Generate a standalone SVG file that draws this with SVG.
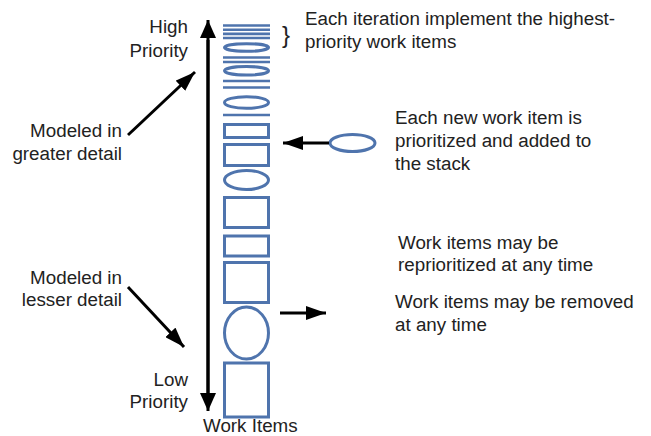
<svg xmlns="http://www.w3.org/2000/svg" width="651" height="436" viewBox="0 0 651 436">
<style>
text{font-family:"Liberation Sans",Arial,sans-serif;font-size:18.8px;fill:#222}
.r{text-anchor:end}
.s{fill:none;stroke:#4f74ad;stroke-width:3}
.l{stroke:#4f74ad;stroke-width:2.6}
.a{stroke:#000;stroke-width:3;fill:none}
</style>
<defs>
<marker id="big" markerUnits="userSpaceOnUse" markerWidth="18" markerHeight="16" refX="18" refY="8" orient="auto"><path d="M0,0 L18,8 L0,16 Z" fill="#000"/></marker>
<marker id="sm" markerUnits="userSpaceOnUse" markerWidth="20" markerHeight="14" refX="20" refY="7" orient="auto"><path d="M0,0 L20,7 L0,14 Z" fill="#000"/></marker>
</defs>
<rect width="651" height="436" fill="#fff"/>
<g id="axis">
<line class="a" x1="208" y1="405" x2="208" y2="20" marker-end="url(#big)"/>
<line class="a" x1="208" y1="40" x2="208" y2="411" marker-end="url(#big)"/>
<text class="r" x="188" y="33">High</text>
<text class="r" x="188" y="57">Priority</text>
<text class="r" x="188" y="386">Low</text>
<text class="r" x="188" y="408">Priority</text>
<text x="203" y="432">Work Items</text>
</g>
<g id="stack">
<line class="l" x1="223" y1="25.5" x2="270" y2="25.5"/>
<line class="l" x1="223" y1="29.7" x2="270" y2="29.7"/>
<line class="l" x1="223" y1="33.9" x2="270" y2="33.9"/>
<line class="l" x1="223" y1="38" x2="270" y2="38"/>
<ellipse class="s" cx="246.5" cy="47.5" rx="22" ry="3.8"/>
<line class="l" x1="223" y1="57.5" x2="270" y2="57.5"/>
<line class="l" x1="223" y1="62" x2="270" y2="62"/>
<ellipse class="s" cx="246.5" cy="70.8" rx="22" ry="4.3"/>
<line class="l" x1="223" y1="81" x2="270" y2="81"/>
<line class="l" x1="223" y1="87.5" x2="270" y2="87.5"/>
<ellipse class="s" cx="246.5" cy="102.5" rx="22" ry="5.8"/>
<line class="l" x1="223" y1="115" x2="270" y2="115"/>
<rect class="s" x="224.5" y="124.5" width="44" height="13"/>
<rect class="s" x="224.5" y="144.5" width="44" height="21"/>
<ellipse class="s" cx="246.5" cy="180" rx="22" ry="9.5"/>
<rect class="s" x="224.5" y="197.5" width="44" height="30"/>
<rect class="s" x="224.5" y="236" width="44" height="20"/>
<rect class="s" x="224.5" y="262.5" width="44" height="40"/>
<ellipse class="s" cx="246.5" cy="333" rx="22" ry="26"/>
<rect class="s" x="224.5" y="363" width="44" height="54"/>
</g>
<g id="newitem">
<ellipse class="s" cx="352.5" cy="143" rx="22.5" ry="8.5"/>
</g>
<g id="notes">
<text x="282" y="43" style="font-size:24px">}</text>
<text x="305" y="25">Each iteration implement the highest-</text>
<text x="305" y="48">priority work items</text>
<text class="r" x="122" y="137">Modeled in</text>
<text class="r" x="122" y="160">greater detail</text>
<text class="r" x="122" y="284">Modeled in</text>
<text class="r" x="122" y="306">lesser detail</text>
<text x="395" y="124">Each new work item is</text>
<text x="395" y="147">prioritized and added to</text>
<text x="395" y="170">the stack</text>
<text x="398" y="249">Work items may be</text>
<text x="398" y="271">reprioritized at any time</text>
<text x="395" y="308">Work items may be removed</text>
<text x="395" y="331">at any time</text>
</g>
<g id="connectors">
<line class="a" x1="128" y1="135" x2="195" y2="72" marker-end="url(#sm)"/>
<line class="a" x1="128" y1="287" x2="184" y2="347" marker-end="url(#sm)"/>
<line class="a" x1="329" y1="143" x2="283" y2="143" marker-end="url(#sm)"/>
<line class="a" x1="280" y1="313" x2="326" y2="313" marker-end="url(#sm)"/>
</g>
</svg>
